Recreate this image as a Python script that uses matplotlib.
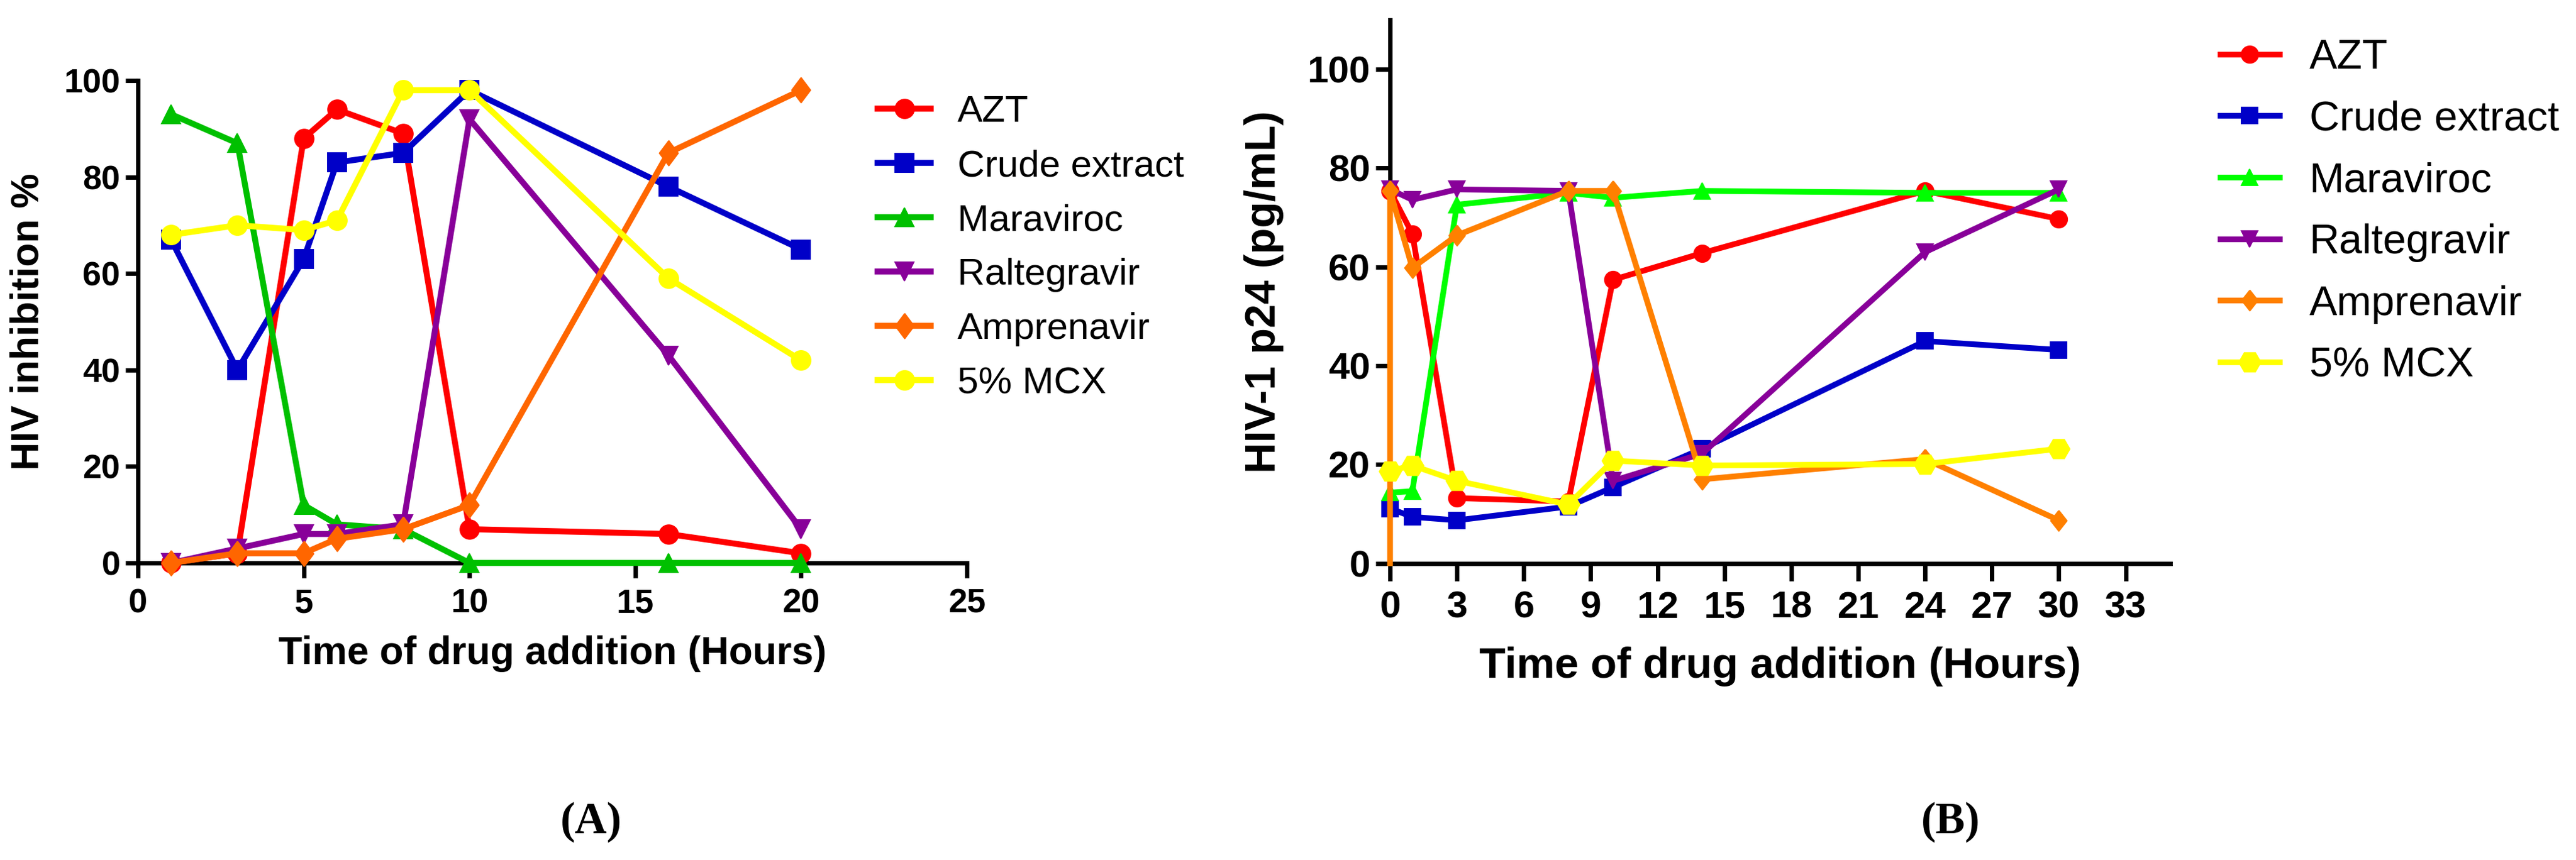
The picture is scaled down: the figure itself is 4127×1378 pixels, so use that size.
import numpy as np
import matplotlib
matplotlib.use("Agg")
import matplotlib.pyplot as plt

# =============================================================================
# donnees
# =============================================================================
labels = ['AZT', 'Crude extract', 'Maraviroc', 'Raltegravir', 'Amprenavir', '5% MCX']

# panneau A : % inhibition
time_a = [1, 3, 5, 6, 8, 10, 16, 20]
azt_a = [0, 2, 88, 94, 89, 7, 6, 2]
crude_a = [67, 40, 63, 83, 85, 98, 78, 65]
mara_a = [93, 87, 12, 8, 7, 0, 0, 0]
ralt_a = [0, 3, 6, 6, 8, 92, 43, 7]
ampr_a = [0, 2, 2, 5, 7, 12, 85, 98]
mcx_a = [68, 70, 69, 71, 98, 98, 59, 42]

# panneau B : p24 (pg/mL)
time_b = [0, 1, 3, 8, 10, 14, 24, 30]
azt_b = [75.4, 66.7, 13.2, 12.5, 57.4, 62.8, 75.4, 69.7]
crude_b = [11.1, 9.4, 8.7, 11.5, 15.4, 23.2, 45, 43.2]
mara_b = [14.3, 14.6, 72.6, 75, 74, 75.4, 75, 75]
ralt_b = [75.7, 73.6, 75.7, 75.4, 16.7, 22.2, 63, 75.7]
# l'amprenavir part de 0 a t=0 (trait vertical sans symbole)
ampr_b_time = [0, 0, 1, 3, 8, 10, 14, 24, 30]
ampr_b = [0, 75.4, 59.8, 66.4, 75.4, 75.4, 17, 21.1, 8.7]
mcx_b = [18.7, 19.8, 16.7, 11.9, 20.8, 19.8, 20.1, 23.2]

# =============================================================================
# styles
# =============================================================================
diamond = [(0, 1), (0.75, 0), (0, -1), (-0.75, 0), (0, 1)]
diamond_b = [(0, 1), (0.79, 0), (0, -1), (-0.79, 0), (0, 1)]

colors_a = ['#FF0000', '#0000C8', '#00C000', '#880099', '#FF6600', '#FFFF00']
colors_b = ['#FF0000', '#0000C8', '#00FF00', '#880099', '#FF8000', '#FFFF00']
markers_a = ['o', 's', '^', 'v', diamond, 'o']
markers_b = ['o', 's', '^', 'v', diamond_b, 'H']
ms_a = [7.3, 7.3, 7.4, 7.4, 9.6, 7.4]
ms_b = [6.5, 6.3, 6.4, 6.4, 7.9, 8.4]

plt.rcParams['font.family'] = ['Liberation Sans', 'DejaVu Sans']

fig = plt.figure(figsize=(4127 / 300, 1378 / 300), dpi=300)
ax1 = fig.add_axes([221 / 4127, 1 - 902 / 1378, 1328 / 4127, 773 / 1378])
ax2 = fig.add_axes([2227 / 4127, 1 - 902.6 / 1378, 1250 / 4127, 870.6 / 1378])


def style_axes(ax, tsize, ylen, xlen):
    for s in ['top', 'right']:
        ax.spines[s].set_visible(False)
    for s in ['left', 'bottom']:
        ax.spines[s].set_linewidth(1.7)
        ax.spines[s].set_zorder(2)
    ax.tick_params(axis='y', direction='out', length=ylen, width=1.7, pad=2,
                   labelsize=tsize)
    ax.tick_params(axis='x', direction='out', length=xlen, width=1.7, pad=4,
                   labelsize=tsize)
    for t in ax.get_xticklabels() + ax.get_yticklabels():
        t.set_fontweight('bold')


# =============================================================================
# panneau A
# =============================================================================
series_a = [azt_a, crude_a, mara_a, ralt_a, ampr_a, mcx_a]
for k in range(6):
    ax1.plot(time_a, series_a[k], color=colors_a[k], marker=markers_a[k],
             ms=ms_a[k], mec=colors_a[k], mew=0.5, lw=2.3, label=labels[k],
             clip_on=False, zorder=3 + k)
ax1.set_xlim(0, 25)
ax1.set_ylim(0, 100)
ax1.set_xticks(np.arange(0, 26, 5))
ax1.set_yticks(np.arange(0, 101, 20))
style_axes(ax1, 13, 4.8, 5.8)
ax1.set_ylabel('HIV inhibition %', fontsize=15, fontweight='bold')
ax1.set_xlabel('Time of drug addition (Hours)', fontsize=15, fontweight='bold',
               va='top')
ax1.yaxis.set_label_coords(-0.11, 0.5)
ax1.xaxis.set_label_coords(0.5, -0.150)
ax1.legend(loc='upper left', bbox_to_anchor=(1406 / 4127, 1 - 152 / 1378),
           bbox_transform=fig.transFigure, frameon=False, fontsize=14.5,
           borderpad=0, borderaxespad=0, handlelength=1.41, handletextpad=0.71,
           labelspacing=0.53)

# =============================================================================
# panneau B
# =============================================================================
series_b = [azt_b, crude_b, mara_b, ralt_b, ampr_b, mcx_b]
for k in range(6):
    if k == 4:
        ax2.plot(ampr_b_time, ampr_b, color=colors_b[k], marker=markers_b[k],
                 ms=ms_b[k], mec=colors_b[k], mew=0.5, lw=2.2, label=labels[k],
                 markevery=list(range(1, len(ampr_b))), clip_on=False, zorder=3 + k)
    else:
        ax2.plot(time_b, series_b[k], color=colors_b[k], marker=markers_b[k],
                 ms=ms_b[k], mec=colors_b[k], mew=0.5, lw=2.2, label=labels[k],
                 clip_on=False, zorder=3 + k)
ax2.set_xlim(0, 35)
ax2.set_ylim(0, 110)
ax2.set_xticks(np.arange(0, 34, 3))
ax2.set_yticks(np.arange(0, 101, 20))
style_axes(ax2, 14.5, 5.6, 6.6)
ax2.set_ylabel('HIV-1 p24 (pg/mL)', fontsize=16.5, fontweight='bold')
ax2.set_xlabel('Time of drug addition (Hours)', fontsize=16.5, fontweight='bold',
               va='top')
ax2.yaxis.set_label_coords(-0.136, 0.5)
ax2.xaxis.set_label_coords(0.5, -0.153)
ax2.legend(loc='upper left', bbox_to_anchor=(3557 / 4127, 1 - 62 / 1378),
           bbox_transform=fig.transFigure, frameon=False, fontsize=16,
           borderpad=0, borderaxespad=0, handlelength=1.42, handletextpad=0.72,
           labelspacing=0.55)

# lettres des panneaux
fig.text(947 / 4127, 1 - 1317 / 1378, '(A)', ha='center', va='center',
         fontsize=17, fontweight='bold', family=['Liberation Serif', 'DejaVu Serif'])
fig.text(3125 / 4127, 1 - 1317 / 1378, '(B)', ha='center', va='center',
         fontsize=17, fontweight='bold', family=['Liberation Serif', 'DejaVu Serif'])

fig.savefig('out.png', dpi=300)
